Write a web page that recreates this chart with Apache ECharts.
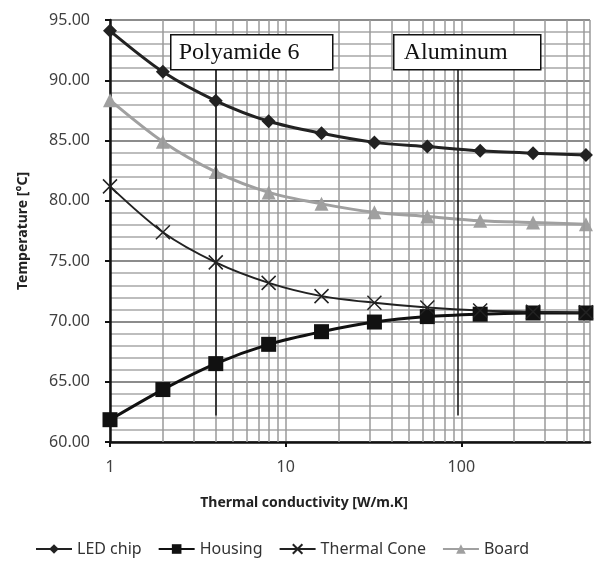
<!DOCTYPE html>
<html>
<head>
<meta charset="utf-8">
<script src="https://cdn.jsdelivr.net/npm/echarts@6/dist/echarts.min.js"></script>
<style>
  html, body { margin: 0; padding: 0; background: #fff; }
  #main { width: 600px; height: 576px; }
</style>
</head>
<body>
<div id="main"></div>
<script>
// thermal conductivity values (x, log scale)
var conductivity = [1, 2, 4, 8, 16, 32, 64, 128, 256, 512];
// temperatures
var ledChip = [94.1, 90.7, 88.3, 86.6, 85.6, 84.85, 84.5, 84.15, 83.95, 83.8];
var housing = [61.85, 64.35, 66.5, 68.1, 69.15, 69.95, 70.4, 70.6, 70.7, 70.7];
var thermalCone = [81.2, 77.4, 74.9, 73.2, 72.1, 71.55, 71.15, 70.9, 70.8, 70.75];
var board = [88.35, 84.9, 82.4, 80.7, 79.75, 79.05, 78.7, 78.35, 78.2, 78.05];
// minor log grid positions
var minorX = [2, 3, 4, 5, 6, 7, 8, 9, 20, 30, 40, 50, 60, 70, 80, 90, 200, 300, 400, 500];
// material marker lines
var polyamideK = 4;
var aluminumK = 95;

function pairs(vals) {
  return conductivity.map(function (k, i) { return [k, vals[i]]; });
}

var chart = echarts.init(document.getElementById("main"));
var font = "Noto Sans";
var crossPath = "path://M0,0L10,10M10,0L0,10";

function labelBox(left, width, text, textX) {
  return {
    type: "group", left: left, top: 34, z: 100,
    children: [
      { type: "rect", z: 100, shape: { x: 0, y: 0, width: width, height: 35 },
        style: { fill: "#fff", stroke: "#111", lineWidth: 1.5 } },
      { type: "text", z: 101, x: textX, y: 18,
        style: { text: text, font: "24px 'Liberation Serif'", fill: "#111", textVerticalAlign: "middle" } }
    ]
  };
}

chart.setOption({
  backgroundColor: "#ffffff",
  animation: false,
  textStyle: { fontFamily: font },
  grid: { left: 110, right: 10, top: 20, bottom: 134 },
  legend: {
    left: 30,
    bottom: 14,
    itemWidth: 36,
    itemHeight: 12,
    itemGap: 16,
    textStyle: { fontFamily: font, fontSize: 16, color: "#333" },
    data: ["LED chip", "Housing", "Thermal Cone", "Board"]
  },
  xAxis: {
    type: "log",
    logBase: 10,
    min: 1,
    max: 540,
    name: "Thermal conductivity [W/m.K]",
    nameLocation: "middle",
    nameGap: 54,
    nameTextStyle: {
      fontFamily: font, fontSize: 14, fontWeight: "bold", color: "#222",
      padding: [0, 92, 0, 0]
    },
    axisLine: { lineStyle: { color: "#111", width: 2.5 } },
    axisTick: { show: true, length: 5, lineStyle: { color: "#111", width: 2 } },
    axisLabel: {
      fontFamily: font, fontSize: 16, color: "#404040", margin: 17,
      showMaxLabel: false
    },
    splitLine: { show: true, lineStyle: { color: "#9a9a9a", width: 1.5 } }
  },
  yAxis: {
    type: "value",
    min: 60,
    max: 95,
    interval: 5,
    name: "Temperature [°C]",
    nameLocation: "middle",
    nameGap: 80,
    nameTextStyle: { fontFamily: font, fontSize: 14, fontWeight: "bold", color: "#222" },
    axisLine: { show: true, lineStyle: { color: "#111", width: 2.5 } },
    axisTick: { show: true, length: 5, lineStyle: { color: "#111", width: 2 } },
    axisLabel: {
      fontFamily: font, fontSize: 16, color: "#404040", margin: 20,
      formatter: function (v) { return v.toFixed(2); }
    },
    splitLine: { show: true, lineStyle: { color: "#8c8c8c", width: 2 } },
    minorTick: { show: false, splitNumber: 5 },
    minorSplitLine: { show: true, lineStyle: { color: "#a8a8a8", width: 1.5 } }
  },
  graphic: [
    labelBox(170, 162, "Polyamide 6", 8),
    labelBox(393, 147, "Aluminum", 10)
  ],
  series: [
    {
      name: "grid",
      type: "line",
      data: [],
      z: 1,
      silent: true,
      markLine: {
        silent: true,
        symbol: "none",
        animation: false,
        label: { show: false },
        lineStyle: { color: "#9a9a9a", width: 1.5, type: "solid" },
        data: minorX.map(function (k) { return { xAxis: k }; })
      }
    },
    {
      name: "materials",
      type: "line",
      data: [],
      z: 2,
      silent: true,
      markLine: {
        silent: true,
        symbol: "none",
        animation: false,
        label: { show: false },
        lineStyle: { color: "#111", width: 1.5, type: "solid" },
        data: [
          [{ coord: [polyamideK, 62.2] }, { coord: [polyamideK, 91] }],
          [{ coord: [aluminumK, 62.2] }, { coord: [aluminumK, 91] }]
        ]
      }
    },
    {
      name: "LED chip",
      type: "line",
      z: 5,
      smooth: 0.3,
      data: pairs(ledChip),
      symbol: "diamond",
      symbolSize: 14,
      lineStyle: { color: "#222", width: 3 },
      itemStyle: { color: "#222" }
    },
    {
      name: "Housing",
      type: "line",
      z: 5,
      smooth: 0.3,
      data: pairs(housing),
      symbol: "rect",
      symbolSize: 15,
      lineStyle: { color: "#111", width: 3 },
      itemStyle: { color: "#111" }
    },
    {
      name: "Thermal Cone",
      type: "line",
      z: 5,
      smooth: 0.3,
      data: pairs(thermalCone),
      symbol: crossPath,
      symbolSize: 14,
      lineStyle: { color: "#222", width: 2 },
      itemStyle: { color: "rgba(0,0,0,0)", borderColor: "#222", borderWidth: 1.5 }
    },
    {
      name: "Board",
      type: "line",
      z: 4,
      smooth: 0.3,
      data: pairs(board),
      symbol: "triangle",
      symbolSize: 14,
      lineStyle: { color: "#a0a0a0", width: 3 },
      itemStyle: { color: "#a0a0a0" }
    }
  ]
});

window.onresize = function () {
  chart.resize();
};
</script>
</body>
</html>
